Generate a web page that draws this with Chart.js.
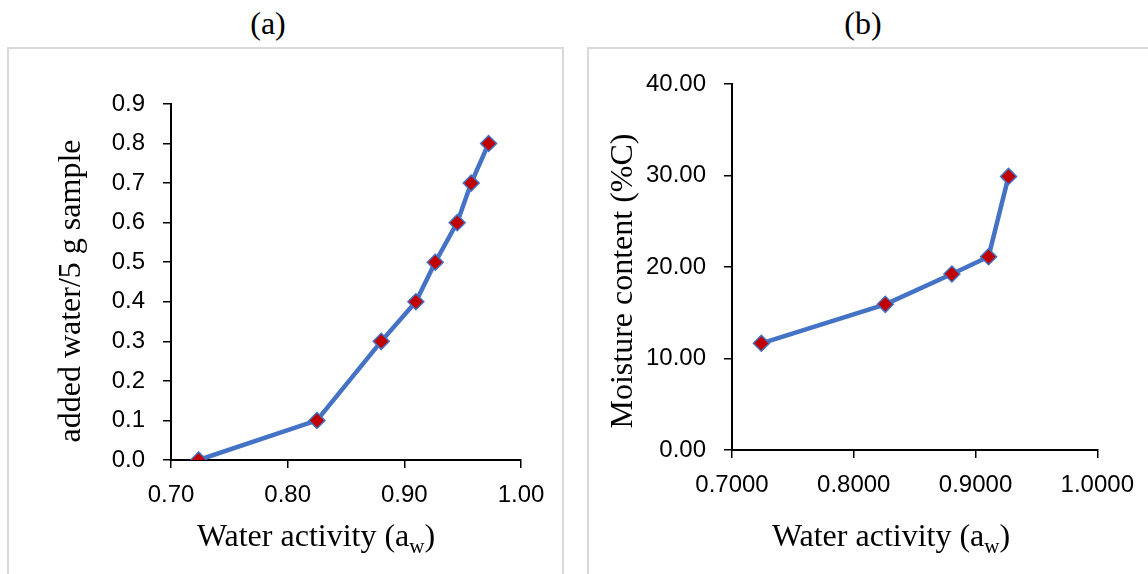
<!DOCTYPE html>
<html>
<head>
<meta charset="utf-8">
<script src="https://cdn.jsdelivr.net/npm/chart.js@4/dist/chart.umd.min.js"></script>
<style>
  body { margin: 0; width: 1148px; height: 574px; overflow: hidden; background: #fff; position: relative; }
  .box { position: absolute; border: 2px solid #d9d9d9; box-sizing: border-box; }
  .lbl { position: absolute; font: 32px "Liberation Serif", serif; color: #000; transform: translate(-50%, -50%); }
  canvas { position: absolute; }
</style>
</head>
<body>
<div class="box" style="left:7px; top:47px; width:557px; height:560px;"></div>
<div class="box" style="left:587px; top:47px; width:600px; height:560px;"></div>
<div class="lbl" style="left:268px; top:23px;">(a)</div>
<div class="lbl" style="left:863px; top:23px;">(b)</div>
<canvas id="chartA" width="554" height="525" style="left:8px; top:49px;"></canvas>
<canvas id="chartB" width="558" height="525" style="left:589px; top:49px;"></canvas>
<script>
// (a) added water vs water activity
const awA = [0.7237, 0.8251, 0.8802, 0.9099, 0.9265, 0.9453, 0.9573, 0.9722];
const waterA = [0, 0.1, 0.3, 0.4, 0.5, 0.6, 0.7, 0.8];
const xTicksA = [0.70, 0.80, 0.90, 1.00];
const yTicksA = [0, 0.1, 0.2, 0.3, 0.4, 0.5, 0.6, 0.7, 0.8, 0.9];

// (b) moisture content vs water activity
const awB = [0.7241, 0.8259, 0.8806, 0.9107, 0.9271];
const moistureB = [11.66, 15.92, 19.23, 21.13, 29.90];
const xTicksB = [0.70, 0.80, 0.90, 1.00];
const yTicksB = [0, 10, 20, 30, 40];

Chart.defaults.font.family = '"Liberation Sans", Arial, sans-serif';
Chart.defaults.color = '#000';

// axis titles drawn by hand so the x title can carry a subscript
const axisTitles = {
  id: 'axisTitles',
  afterDraw(chart, args, opts) {
    const ctx = chart.ctx;
    ctx.save();
    ctx.fillStyle = '#000';
    ctx.textBaseline = 'middle';
    const big = '32px "Liberation Serif", serif';
    const small = '21px "Liberation Serif", serif';
    ctx.font = big;
    const w1 = ctx.measureText(opts.x.text).width;
    const w3 = ctx.measureText(opts.x.tail).width;
    ctx.font = small;
    const w2 = ctx.measureText(opts.x.sub).width;
    let x = opts.x.cx - (w1 + w2 + w3) / 2;
    ctx.textAlign = 'left';
    ctx.font = big;
    ctx.fillText(opts.x.text, x, opts.x.cy);
    x += w1;
    ctx.font = small;
    ctx.fillText(opts.x.sub, x, opts.x.cy + 9);
    x += w2;
    ctx.font = big;
    ctx.fillText(opts.x.tail, x, opts.x.cy);
    // y title, rotated
    ctx.translate(opts.y.cx, opts.y.cy);
    ctx.rotate(-Math.PI / 2);
    ctx.textAlign = 'center';
    ctx.fillText(opts.y.text, 0, 0);
    ctx.restore();
  }
};

function makeChart(id, xs, ys, xTicks, yTicks, xDec, yDec, box, titles) {
  const pts = xs.map((v, i) => ({ x: v, y: ys[i] }));
  return new Chart(document.getElementById(id), {
    type: 'scatter',
    data: {
      datasets: [{
        data: pts,
        showLine: true,
        borderColor: '#4472C4',
        borderWidth: 4.5,
        pointStyle: 'rectRot',
        pointRadius: 8,
        pointHoverRadius: 8,
        pointBackgroundColor: '#C00000',
        pointBorderColor: '#4472C4',
        pointBorderWidth: 1.5
      }]
    },
    options: {
      responsive: false,
      animation: false,
      layout: { padding: { left: 0, top: box.top, right: box.right, bottom: 0 } },
      plugins: { legend: { display: false }, tooltip: { enabled: false }, axisTitles: titles },
      scales: {
        x: {
          type: 'linear',
          min: xTicks[0], max: xTicks[xTicks.length - 1],
          afterBuildTicks: s => { s.ticks = xTicks.map(v => ({ value: v })); },
          afterFit: s => { s.height = box.xh; },
          ticks: { font: { size: 24 }, padding: 13, maxRotation: 0, callback: v => v.toFixed(xDec) },
          grid: { drawOnChartArea: false, tickLength: 8, color: '#000', lineWidth: 1.5 },
          border: { color: '#000', width: 2 }
        },
        y: {
          min: yTicks[0], max: yTicks[yTicks.length - 1],
          afterBuildTicks: s => { s.ticks = yTicks.map(v => ({ value: v })); },
          afterFit: s => { s.width = box.yw; },
          ticks: { font: { size: 24 }, padding: 18, callback: v => v.toFixed(yDec) },
          grid: { drawOnChartArea: false, tickLength: 8, color: '#000', lineWidth: 1.5 },
          border: { color: '#000', width: 2 }
        }
      }
    },
    plugins: [axisTitles]
  });
}

makeChart('chartA', awA, waterA, xTicksA, yTicksA, 2, 1,
  { top: 55, right: 41, xh: 114, yw: 163 },
  { x: { text: 'Water activity (a', sub: 'w', tail: ')', cx: 308, cy: 489 },
    y: { text: 'added water/5 g sample', cx: 64, cy: 242 } });

makeChart('chartB', awB, moistureB, xTicksB, yTicksB, 4, 2,
  { top: 35, right: 49, xh: 124, yw: 143 },
  { x: { text: 'Water activity (a', sub: 'w', tail: ')', cx: 302, cy: 489 },
    y: { text: 'Moisture content (%C)', cx: 35, cy: 232 } });
</script>
</body>
</html>
